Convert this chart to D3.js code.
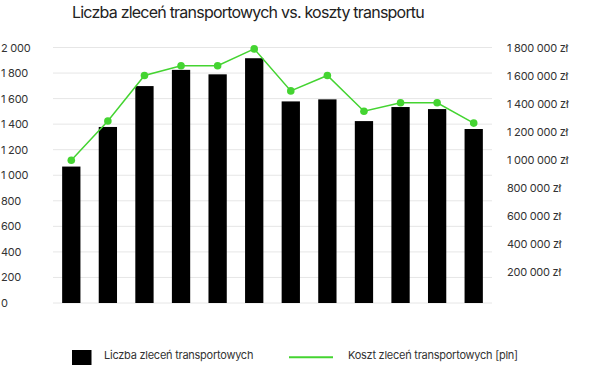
<!DOCTYPE html>
<html>
<head>
<meta charset="utf-8">
<script src="https://cdn.jsdelivr.net/npm/d3@7"></script>
<style>
  html, body { margin: 0; padding: 0; background: #fff; }
  svg { display: block; font-family: Inter, "Noto Sans", sans-serif; }
</style>
</head>
<body>
<svg id="chart" width="600" height="365"></svg>
<script>
const categories = ["1","2","3","4","5","6","7","8","9","10","11","12"];
const orders = [1068, 1378, 1698, 1825, 1790, 1916, 1578, 1594, 1424, 1534, 1518, 1362];
const costs = [1000000, 1280000, 1605000, 1675000, 1675000, 1795000, 1495000, 1605000, 1350000, 1410000, 1410000, 1265000];
const leftTicks = [0, 200, 400, 600, 800, 1000, 1200, 1400, 1600, 1800, 2000];
const rightTicks = [200000, 400000, 600000, 800000, 1000000, 1200000, 1400000, 1600000, 1800000];
const title = "Liczba zleceń transportowych vs. koszty transportu";
const legendBar = "Liczba zleceń transportowych";
const legendLine = "Koszt zleceń transportowych [pln]";

const svg = d3.select("#chart");
const green = "#44d431";
const fmt = v => d3.format(",")(v).replace(/,/g, " ");

const x = d3.scaleBand().domain(categories).range([53, 492]).paddingInner(0.5).paddingOuter(0.25);
const yL = d3.scaleLinear().domain([0, 2000]).range([303, 47.5]);
const yR = d3.scaleLinear().domain([0, 1800000]).range([300.2, 48.2]);

// gridlines
svg.append("g").selectAll("line").data(leftTicks).join("line")
  .attr("x1", 53).attr("x2", 492)
  .attr("y1", d => yL(d)).attr("y2", d => yL(d))
  .attr("stroke", "#e6e6e6").attr("stroke-width", 1);

// left axis
const axL = svg.append("g").attr("transform", "translate(1,0)")
  .call(d3.axisRight(yL).tickValues(leftTicks).tickSize(0).tickPadding(0).tickFormat(fmt));
axL.select(".domain").remove();
axL.selectAll("text").attr("fill", "#333").style("font-size", "11px")
  .style("font-family", "Inter, sans-serif").style("letter-spacing", "-0.25px");

// right axis
const axR = svg.append("g").attr("transform", "translate(507,0)")
  .call(d3.axisRight(yR).tickValues(rightTicks).tickSize(0).tickPadding(0).tickFormat(d => fmt(d) + " zł"));
axR.select(".domain").remove();
axR.selectAll("text").attr("fill", "#333").style("font-size", "11px")
  .style("font-family", "Inter, sans-serif").style("letter-spacing", "-0.25px");

// bars
svg.append("g").selectAll("rect").data(orders).join("rect")
  .attr("x", (d, i) => x(categories[i]))
  .attr("width", x.bandwidth())
  .attr("y", d => yL(d))
  .attr("height", d => yL(0) - yL(d))
  .attr("fill", "#000");

// line
const line = d3.line().x((d, i) => x(categories[i]) + x.bandwidth() / 2).y(d => yR(d));
svg.append("path").datum(costs).attr("d", line)
  .attr("fill", "none").attr("stroke", green).attr("stroke-width", 1.5);
svg.append("g").selectAll("circle").data(costs).join("circle")
  .attr("cx", (d, i) => x(categories[i]) + x.bandwidth() / 2)
  .attr("cy", d => yR(d)).attr("r", 3.8).attr("fill", green);

// title
svg.append("text").attr("x", 72).attr("y", 18).attr("fill", "#222")
  .style("font-size", "16px").style("letter-spacing", "-0.78px").text(title);

// legend
svg.append("rect").attr("x", 72).attr("y", 350).attr("width", 19.5).attr("height", 20).attr("fill", "#000");
svg.append("text").attr("x", 104).attr("y", 359).attr("fill", "#333").style("font-size", "11px")
  .style("letter-spacing", "-0.25px").text(legendBar);
svg.append("line").attr("x1", 289).attr("x2", 333).attr("y1", 357.3).attr("y2", 357.3)
  .attr("stroke", green).attr("stroke-width", 2);
svg.append("text").attr("x", 348).attr("y", 359).attr("fill", "#333").style("font-size", "11px")
  .style("letter-spacing", "-0.25px").text(legendLine);
</script>
</body>
</html>
